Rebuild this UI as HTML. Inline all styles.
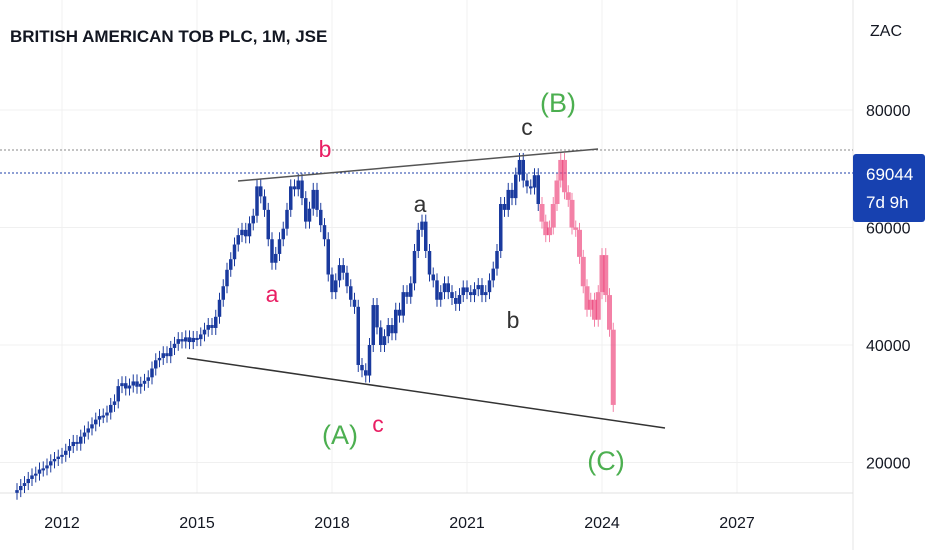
<!DOCTYPE html>
<html><head><meta charset="utf-8"><style>
body{margin:0;background:#fff;font-family:"Liberation Sans",sans-serif}
svg{display:block}
</style></head><body>
<svg id="c" width="932" height="550" xmlns="http://www.w3.org/2000/svg">
<rect width="932" height="550" fill="#fff"/>
<g id="grid"></g>
<line x1="853" y1="0" x2="853" y2="550" stroke="#e6e6e6"/>
<line x1="0" y1="493" x2="853" y2="493" stroke="#e0e0e0"/>
<line x1="0" y1="150" x2="853" y2="150" stroke="#888" stroke-dasharray="2,2"/>
<line x1="0" y1="173" x2="853" y2="173" stroke="#1e3fa8" stroke-dasharray="2,2"/>
<g id="candles"></g>
<line x1="238" y1="181" x2="598" y2="149" stroke="#555" stroke-width="1.5"/>
<line x1="187" y1="358" x2="665" y2="428" stroke="#333" stroke-width="1.5"/>
<text x="10" y="42" font-size="17" font-weight="bold" fill="#131722">BRITISH AMERICAN TOB PLC, 1M, JSE</text>
<text x="870" y="36" font-size="16" fill="#131722">ZAC</text>
<g id="ylabels" font-size="16" fill="#131722"></g>
<g id="xlabels" font-size="16" fill="#131722" text-anchor="middle"></g>
<rect x="853" y="154" width="72" height="68" rx="3" fill="#1741b0"/>
<text x="866" y="180" font-size="17" fill="#fff">69044</text>
<text x="866" y="208" font-size="17" fill="#fff">7d 9h</text>
<g font-size="23">
<text x="325" y="157" fill="#e91e63" text-anchor="middle">b</text>
<text x="272" y="302" fill="#e91e63" text-anchor="middle">a</text>
<text x="378" y="432" fill="#e91e63" text-anchor="middle">c</text>
<text x="420" y="212" fill="#333" text-anchor="middle">a</text>
<text x="513" y="328" fill="#333" text-anchor="middle">b</text>
<text x="527" y="135" fill="#333" text-anchor="middle">c</text>
</g>
<g font-size="27" fill="#4caf50" text-anchor="middle">
<text x="340" y="444">(A)</text>
<text x="558" y="112">(B)</text>
<text x="606" y="470">(C)</text>
</g>
</svg>
<script>
const closes = [
15.3,16,16.5,17.2,17.8,18.1,18.8,19,19.5,20.2,20.6,21,
21.3,22,22.8,23.5,23.2,24.4,25.1,25.8,26.5,27.3,27.9,28,
28.5,29.8,30.4,33,33.5,32.6,33.1,33.8,32.9,33.4,33.9,34.5,
36,37.4,37.8,38.6,38.1,39.5,40.2,41,40.6,41.3,40.5,41.2,
41,41.8,42.6,43.4,42.9,44.8,47.7,50,52.8,54.6,57.1,58.7,
59.6,58.5,60.7,62,67,65.3,63,58,54,55.5,58,59.8,
63,67,66.5,68,65,61,63.2,66.4,63,60.4,58,52,
49,51,53.6,52.3,50,47.7,46.5,36.6,35.7,34.8,40,46.8,
43,40,41.5,43.4,42,46,45,49,48.2,50.5,56,59.6,
61,56,52,51,47.7,49,50.5,49,48,47,48.5,49.8,
49,48.5,49.5,50.2,48.5,49,51,53,56,64,63,66.4,
65,69,71.5,68,67,66.8,68.9,64,61,58.7,60,64,
68,71.5,66,64.7,60,59.6,55,50,46,47.7,44.3,49,
55.3,48.5,42.6,29.8
];
const startYear = 2011;
const pinkFrom = 140;
const yTicks = [80000,60000,40000,20000];
const xTicks = [2012,2015,2018,2021,2024,2027];
const NS="http://www.w3.org/2000/svg";
function yS(v){return 110+(80000-v)*117.5/20000;}
function xS(t){return 62+(t-2012)*45;}
function mk(t,a,p){const e=document.createElementNS(NS,t);for(const k in a)e.setAttribute(k,a[k]);p.appendChild(e);return e;}
const grid=document.getElementById('grid'),cg=document.getElementById('candles'),yl=document.getElementById('ylabels'),xl=document.getElementById('xlabels');
yTicks.forEach(v=>{const l=mk('line',{x1:0,x2:853,y1:yS(v),y2:yS(v),stroke:'#f0f0f0'},grid);


const t=mk('text',{x:866,y:yS(v)+6},yl);t.textContent=v;

});
xTicks.forEach(y=>{const l=mk('line',{x1:xS(y),x2:xS(y),y1:0,y2:493,stroke:'#f0f0f0'},grid);


const t=mk('text',{x:xS(y),y:528},xl);t.textContent=y;

});
closes.forEach((c,i)=>{
 const o=i?closes[i-1]:c*0.97;
 const x=xS(startYear+i/12);
 const y1=yS(Math.max(o,c)*1000),y2=yS(Math.min(o,c)*1000);
 const pink=i>=pinkFrom;
 const col=pink?'#ee3f78':'#1a3a9e';
 const g=mk('g',{opacity:pink?0.65:1},cg);
 
 
 mk('line',{x1:x,x2:x,y1:y1-7,y2:y2+7,stroke:col,'stroke-width':1},g);
 const w=pink?5:3.5;
 mk('rect',{x:x-w/2,y:y1,width:w,height:Math.max(2,y2-y1),fill:col},g);
});
</script>
</body></html>
